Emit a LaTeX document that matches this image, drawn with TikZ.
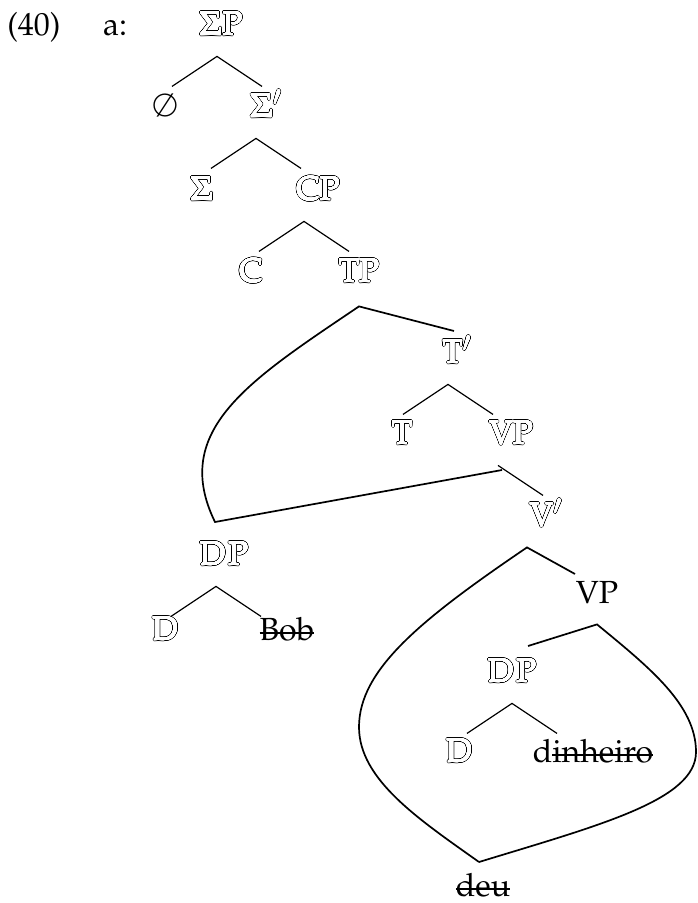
\documentclass[tikz,border=0pt]{standalone}
\usepackage[T1]{fontenc}
\usepackage{mathpazo}
\usepackage[copies]{contour}
\contournumber{24}

\newcommand{\hollow}[1]{{\fontsize{16.5}{19}\selectfont
  \rlap{\contourlength{0.55pt}\textcolor{black}{\contour{black}{#1}}}%
  \contourlength{0.1pt}\textcolor{white}{\contour{white}{#1}}}}
\newsavebox{\strikebox}
\newcommand{\struck}[1]{\sbox{\strikebox}{#1}\rlap{\usebox{\strikebox}}\rule[0.2em]{\wd\strikebox}{0.055em}}

\tikzset{
  lbl/.style={inner sep=0pt, text height=11pt, text depth=10.5pt, anchor=base},
  branch/.style={line width=0.6pt},
  roof/.style={line width=0.85pt, line join=miter}
}

\begin{document}
\begin{tikzpicture}[x=0.5pt,y=-0.5pt,
  every node/.style={font=\fontsize{16}{19}\selectfont}]
  \useasboundingbox (0,0) rectangle (697,903);
  % labels
  \node[lbl] (ex)  at (34,36)  {(40)};
  \node[lbl] (sub) at (115,36) {a:};
  \node[lbl] (sigp)   at (221,35)  {\hollow{$\Sigma$P}};
  \node[lbl] (nul)    at (165,117) {$\emptyset$};
  \node[lbl] (sigbar) at (266,117) {\hollow{$\Sigma'$}};
  \node[lbl] (sig)    at (202,200) {\hollow{$\Sigma$}};
  \node[lbl] (cp)     at (318,200) {\hollow{CP}};
  \node[lbl] (c)      at (251,282) {\hollow{C}};
  \node[lbl] (tp)     at (359,282) {\hollow{TP}};
  \node[lbl] (tbar)   at (457,363) {\hollow{T$'$}};
  \node[lbl] (t)      at (402,444) {\hollow{T}};
  \node[lbl] (vpa)    at (511,444) {\hollow{VP}};
  \node[lbl] (vbar)   at (546,526) {\hollow{V$'$}};
  \node[lbl] (vpb)    at (597,603) {VP};
  \node[lbl] (dpa)    at (224,565) {\hollow{D\kern1.5pt P}};
  \node[lbl] (da)     at (165,640) {\hollow{D}};
  \node[lbl] (bob)    at (287,640) {\struck{Bob}};
  \node[lbl] (dpb)    at (512,682) {\hollow{D\kern1.5pt P}};
  \node[lbl] (db)     at (459,762) {\hollow{D}};
  \node[lbl] (dinh)   at (593,762) {d\struck{inheiro}};
  \node[lbl,text depth=2pt] (deu) at (483,896) {\struck{deu}};
  % branches
  \foreach \mother/\dx in {sigp/-2,sigbar/-5,cp/-7,tbar/-4.5,dpa/-4,dpb/0}
    \draw[branch] ([xshift=\dx pt]\mother.south) ++(-45,30)
      -- ([xshift=\dx pt]\mother.south) -- ++(45,30);
  \draw[branch] ([xshift=-6.5pt]vpa.south) -- ++(45,30);
  % roofs
  \coordinate (tbar-top) at (454,331);
  \coordinate (spec-foot) at (215,522);
  \coordinate (vpa-foot) at (502,470);
  \coordinate (vpb-top) at (575,574);
  \coordinate (dpb-top) at (528,646);
  \coordinate (deu-top) at (479,862);
  \draw[roof] (tbar-top) -- ([yshift=-1.5pt]tp.south)
    .. controls (250,380) and (170,430) .. (spec-foot) -- (vpa-foot);
  \draw[roof] (vpb-top) -- ([xshift=-9.5pt]vbar.south)
    .. controls (420,620) and (359,670) .. (359,727)
    .. controls (359,780) and (420,820) .. (deu-top);
  \draw[roof] (dpb-top) -- (vpb.south)
    .. controls (650,668) and (696,705) .. (696,752)
    .. controls (696,800) and (600,825) .. (deu-top);
\end{tikzpicture}
\end{document}
